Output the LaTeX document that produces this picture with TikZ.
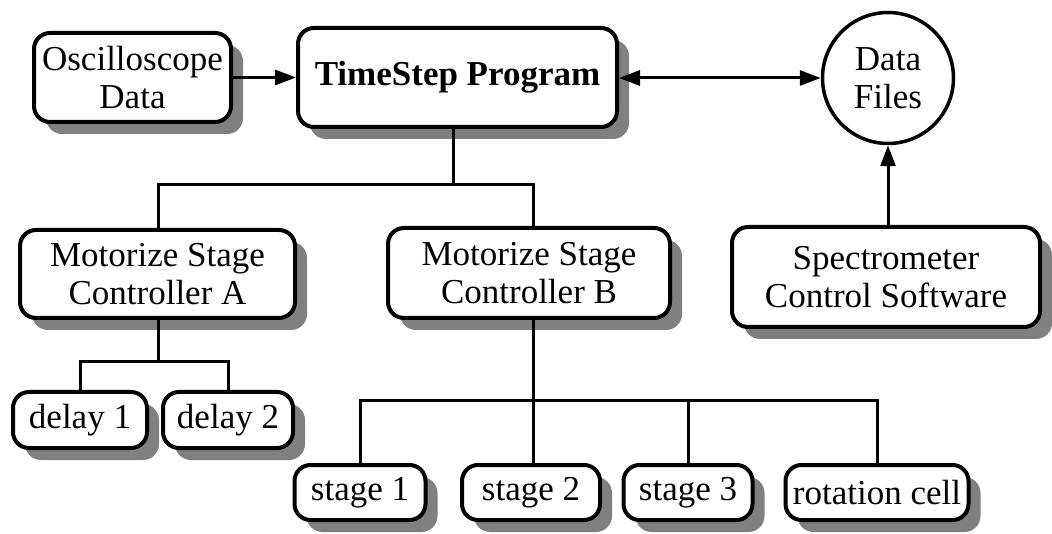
\documentclass[tikz,border=0pt]{standalone}
\usepackage{fontspec}
\setmainfont{Liberation Serif}
\usetikzlibrary{shadows,arrows.meta}
\begin{document}
\begin{tikzpicture}[x=1pt,y=-1pt,
  box/.style={draw, line width=4pt, rounded corners=16pt, fill=white, align=center,
    inner sep=0pt, font=\fontsize{35}{38}\selectfont,
    drop shadow={shadow xshift=12pt, shadow yshift=-12pt, fill=black!50, opacity=1}},
  conn/.style={line width=3pt},
  arr/.style={line width=3pt, -{Triangle[length=21pt,width=15pt]}},
  darr/.style={line width=3pt, {Triangle[length=21pt,width=15pt]}-{Triangle[length=21pt,width=15pt]}}]
\useasboundingbox (0,0) rectangle (1052,534);

\node[box, minimum width=197pt, minimum height=89pt] (osc) at (132.5,77.5) {Oscilloscope\\Data};
\node[box, minimum width=319pt, minimum height=99pt, font=\fontsize{35}{38}\selectfont\bfseries] (ts) at (457.5,77.5) {TimeStep Program};
\node[draw, circle, line width=3.5pt, minimum size=131pt, inner sep=0pt, align=center,
      font=\fontsize{35}{38}\selectfont] (df) at (888,78) {Data\\Files};
\node[box, minimum width=308pt, minimum height=100pt] (spec) at (886,277) {Spectrometer\\Control Software};
\node[box, minimum width=275pt, minimum height=88pt] (mA) at (157.5,274) {Motorize Stage\\Controller A};
\node[box, minimum width=282pt, minimum height=90pt] (mB) at (529,273) {Motorize Stage\\Controller B};
\node[box, minimum width=134pt, minimum height=56pt] (d1) at (80,420) {delay 1};
\node[box, minimum width=130pt, minimum height=56pt] (d2) at (228,420) {delay 2};
\node[box, minimum width=131pt, minimum height=55pt] (s1) at (360,492.5) {stage 1};
\node[box, minimum width=138pt, minimum height=55pt] (s2) at (531,492.5) {stage 2};
\node[box, minimum width=129pt, minimum height=55pt] (s3) at (688,492.5) {stage 3};
\node[box, minimum width=183pt, minimum height=55pt] (rc) at (877,492.5) {rotation cell};

\coordinate (j1) at (453,185);
\coordinate (jA) at (158,185);
\coordinate (jB) at (533,185);
\coordinate (j2) at (158,362);
\coordinate (j3) at (533,400);

\draw[arr] (osc) -- (ts.west |- osc);
\draw[darr] (ts.east |- df) -- (df.west);
\draw[arr] (spec.north -| df) -- (df.south);

\draw[conn] (j1 |- ts.south) -- (j1);
\draw[conn] (jA |- mA.north) -- (jA) -- (jB) -- (jB |- mB.north);

\draw[conn] (j2 |- mA.south) -- (j2);
\draw[conn] (d1.north) -- (d1.north |- j2) -- (d2.north |- j2) -- (d2.north);

\draw[conn] (j3 |- mB.south) -- (j3);
\draw[conn] (s1.north) -- (s1.north |- j3) -- (rc.north |- j3) -- (rc.north);
\draw[conn] (j3) -- (j3 |- s2.north);
\draw[conn] (s3.north |- j3) -- (s3.north);
\end{tikzpicture}
\end{document}
